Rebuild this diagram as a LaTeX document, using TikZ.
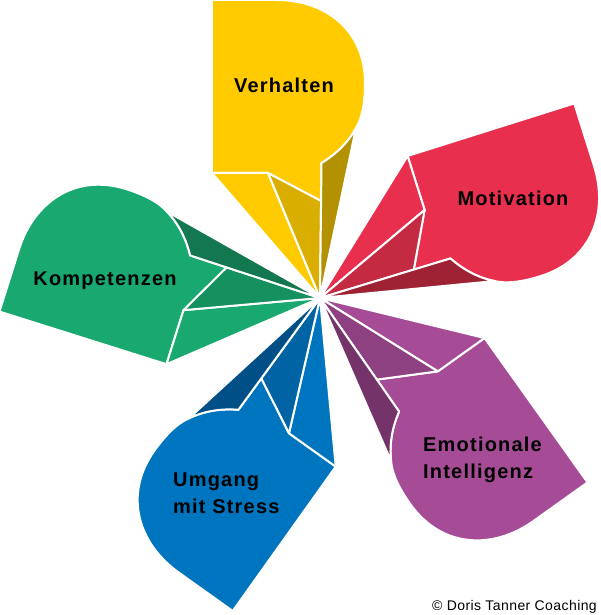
\documentclass[tikz,border=0pt]{standalone}
\usepackage{fontspec}
\setmainfont{Liberation Sans}
\newfontfamily\petalfont[LetterSpace=6]{Liberation Sans}
\newfontfamily\creditfont[LetterSpace=3]{Liberation Sans}
\usepackage{tikz}

\definecolor{yellowA}{HTML}{FFCB00}
\definecolor{yellowB}{HTML}{D9AE00}
\definecolor{yellowC}{HTML}{B39100}
\definecolor{redA}{HTML}{E8304E}
\definecolor{redB}{HTML}{C42A42}
\definecolor{redC}{HTML}{9E2233}
\definecolor{purpleA}{HTML}{A64C97}
\definecolor{purpleB}{HTML}{8E4181}
\definecolor{purpleC}{HTML}{74346A}
\definecolor{blueA}{HTML}{0075BF}
\definecolor{blueB}{HTML}{0064A4}
\definecolor{blueC}{HTML}{005087}
\definecolor{greenA}{HTML}{18A870}
\definecolor{greenB}{HTML}{15905F}
\definecolor{greenC}{HTML}{13784F}

\tikzset{
	face/.style = {draw = white, line width = 2pt, line join = round},
	petal label/.style = {font = \petalfont\bfseries\fontsize{20}{26.5}\selectfont, inner sep = 0pt, align = left},
}

\begin{document}
\begin{tikzpicture}[x = 1pt, y = 1pt]
			\useasboundingbox (-320,-317) rectangle (280,298);
			% one petal, turned five times round the centre
			\foreach \ang/\sc/\colA/\colB/\colC in {0/1/yellowA/yellowB/yellowC, -72.5/1.01/redA/redB/redC, -144.5/1.025/purpleA/purpleB/purpleC, -215.5/1.025/blueA/blueB/blueC, -287.5/1.012/greenA/greenB/greenC}
			{
				\begin{scope}[rotate = \ang, scale = \sc]
					\coordinate (o) at (0,0);
					\coordinate (p1) at (-108,125);
					\coordinate (p2) at (-108,298);
					\coordinate (p3) at (-43,298);
					\coordinate (p4) at (36,170);
					\coordinate (p5) at (1.5,135);
					\coordinate (p6) at (1.1,97);
					\coordinate (p7) at (-52,125);
					\filldraw[face, fill = \colA] (p1) -- (p2) -- (p3) .. controls (5,298) and (45,268) .. (45,215) .. controls (45,195) and (42,180) .. (p4) .. controls (28,155) and (15,143) .. (p5) -- (p6) -- (p7) -- cycle;
					\filldraw[face, fill = \colA] (o) -- (p1) -- (p7) -- cycle;
					\filldraw[face, fill = \colB] (o) -- (p7) -- (p6) -- cycle;
					\filldraw[face, fill = \colC] (o) -- (p5) .. controls (15,143) and (28,155) .. (p4) -- cycle;
				\end{scope}
			}
			\node[petal label] (verhalten) at (-36,213) {Verhalten};
			\node[petal label] (motivation) at (193,100) {Motivation};
			\node[petal label, anchor = north west] (emotion) at (103,-139) {Emotionale\\Intelligenz};
			\node[petal label, anchor = north west] (stress) at (-147,-175) {Umgang\\mit Stress};
			\node[petal label] (kompetenz) at (-215,17) {Kompetenzen};
			\node[font = \creditfont\fontsize{14}{16}\selectfont, anchor = base east, inner sep = 0pt] (credit) at (277,-312) {© Doris Tanner Coaching};
		\end{tikzpicture}
\end{document}
